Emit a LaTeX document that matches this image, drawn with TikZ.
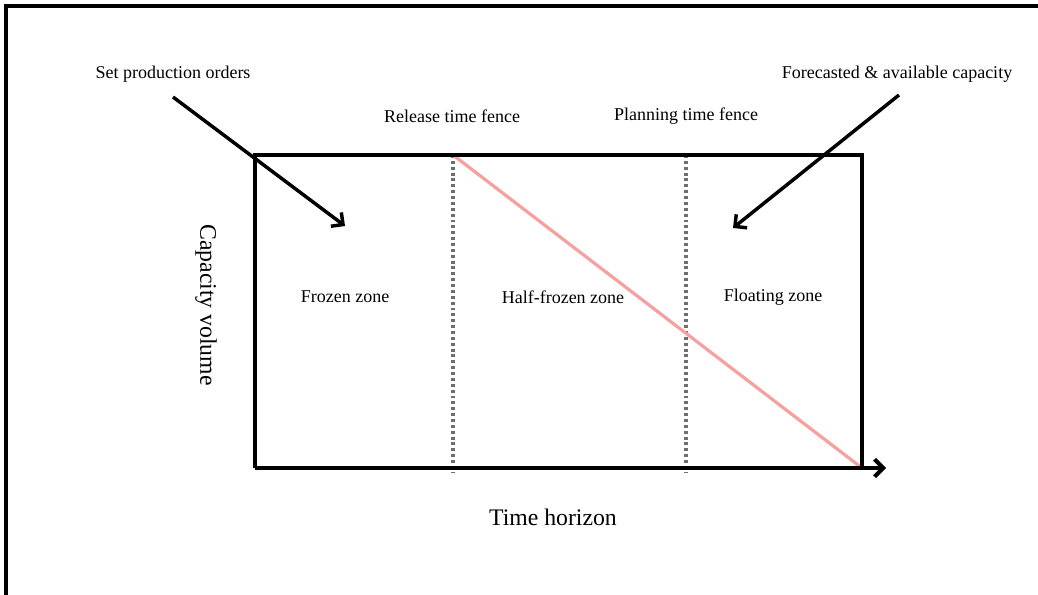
\documentclass[tikz,border=0pt]{standalone}
\usepackage{fontspec}
\setmainfont{Liberation Serif}
\usepackage{xcolor}
\usetikzlibrary{arrows.meta,positioning}

\definecolor{fencegray}{RGB}{110,110,110}
\definecolor{trendpink}{RGB}{246,160,160}

\begin{document}
\begin{tikzpicture}[
  x=0.75pt,y=-0.75pt,
  lbl/.style={font=\fontsize{13.5}{16}\selectfont,inner sep=1pt},
  axlbl/.style={font=\fontsize{17.8}{21}\selectfont,inner sep=1pt},
  frame/.style={line width=3pt},
  fence/.style={line width=2.4pt,fencegray,dash pattern=on 2.2pt off 2.2pt},
  trend/.style={line width=2.4pt,trendpink},
  arr/.style={-{Straight Barb[length=6.5pt,width=13pt]},line width=2.6pt}
]
\useasboundingbox (0,0) rectangle (1038,595);
% page border
\draw[line width=2.4pt] (6,600) -- (6,6) -- (1045,6);

% zone box and time axis
\coordinate (tl) at (255,155);
\coordinate (tr) at (862,155);
\coordinate (bl) at (255,468);
\coordinate (br) at (862,468);
\coordinate (axend) at (886,468);
\coordinate (rel) at (453,155);
\coordinate (relb) at (453,472);
\coordinate (pln) at (686,155);
\coordinate (plnb) at (686,472);

\draw[fence] (rel) -- (relb);
\draw[fence] (pln) -- (plnb);
\draw[trend] (rel) -- (br);
\draw[frame] (bl) -- (tl) -- (tr) -- (br);
\draw[frame,-{Straight Barb[length=6.5pt,width=13pt]}] (bl) -- (axend);

% texts
\node[lbl] (orders) at (173,74) {Set production orders};
\node[lbl] (capac) at (897,74) {Forecasted \& available capacity};
\node[lbl] (relfence) at (452,116) {Release time fence};
\node[lbl] (plnfence) at (686,116) {Planning time fence};
\node[lbl] (frozen) at (345,297) {Frozen zone};
\node[lbl] (halffrozen) at (563,297) {Half-frozen zone};
\node[lbl] (floating) at (773,297) {Floating zone};
\node[axlbl,rotate=-90] (volume) at (206,305) {Capacity volume};
\node[axlbl] (horizon) at (553,517) {Time horizon};

% input arrows
\coordinate (ordout) at (173,97);
\coordinate (ordin) at (345,226);
\coordinate (capout) at (899,95);
\coordinate (capin) at (733,228);
\draw[arr] (ordout) -- (ordin);
\draw[arr] (capout) -- (capin);
\end{tikzpicture}
\end{document}
